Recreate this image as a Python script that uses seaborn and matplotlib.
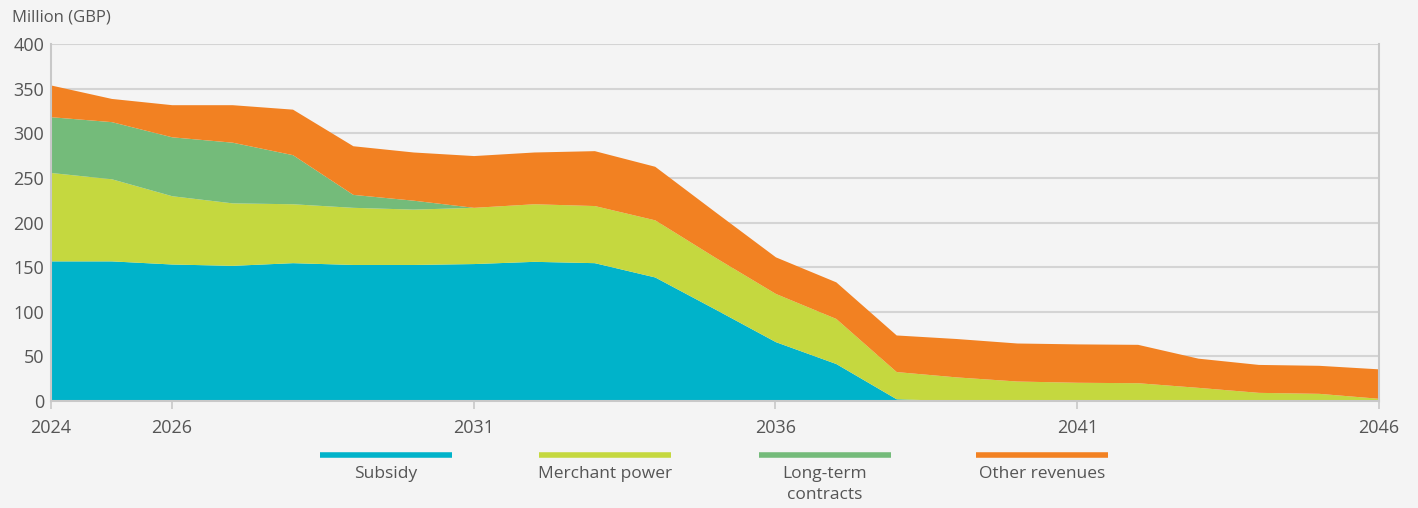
import matplotlib
matplotlib.use('Agg')
import matplotlib.pyplot as plt
from matplotlib.lines import Line2D
import seaborn as sns

# Dados (milhões de GBP)
years = list(range(2024, 2047))
subsidy = [157, 157, 153.5, 152, 155, 153, 153, 154, 156.5, 155, 139, 103, 66.5,
           42, 2.5, 0.5, 0, 0, 0, 0, 0, 0, 0]
merchant = [99, 92, 76.5, 70, 66, 64, 62, 63, 64.5, 64, 64, 58, 54,
            50.5, 30.5, 26.5, 22.4, 21, 20.5, 15.3, 9.7, 8.6, 3]
long_term = [62.5, 64, 66, 68, 55, 14.5, 10, 0, 0, 0, 0, 0, 0,
             0, 0, 0, 0, 0, 0, 0, 0, 0, 0]
other = [35.5, 26, 36, 42, 51, 54.5, 54, 58, 58, 61.5, 60, 51, 41,
         41, 41, 43, 42.6, 43, 43, 32.7, 31.3, 31.4, 33]

series_labels = ['Subsidy', 'Merchant power', 'Long-term\ncontracts', 'Other revenues']
x_ticks = [2024, 2026, 2031, 2036, 2041, 2046]
y_ticks = [0, 50, 100, 150, 200, 250, 300, 350, 400]

colors = ['#00B3CA', '#C5D83F', '#74BB7A', '#F28122']
bg = '#F4F4F4'
text_color = '#555555'
grid_color = '#D4D4D4'

sns.set_theme(style='whitegrid')
plt.rcParams['font.family'] = ['Open Sans', 'DejaVu Sans']

fig = plt.figure(figsize=(14.18, 5.08), dpi=100, facecolor=bg)
ax = fig.add_axes([0.036, 0.2106, 0.9366, 0.7028])
ax.set_facecolor(bg)

ax.stackplot(years, subsidy, merchant, long_term, other,
             colors=colors, linewidth=0)

ax.set_xlim(2024, 2046)
ax.set_ylim(0, 400)
ax.set_xticks(x_ticks)
ax.set_yticks(y_ticks)
ax.tick_params(axis='both', labelsize=13, colors=text_color)
ax.tick_params(axis='x', length=6, width=1.2, color='#C8C8C8', pad=7, direction='out', bottom=True)
ax.tick_params(axis='y', length=0, pad=5)

ax.grid(axis='y', color=grid_color, linewidth=1.5)
ax.grid(axis='x', visible=False)
ax.set_axisbelow(True)
for side in ['left', 'right', 'bottom']:
    ax.spines[side].set_visible(True)
    ax.spines[side].set_color('#C8C8C8')
    ax.spines[side].set_linewidth(1.5)
ax.spines['top'].set_visible(False)

fig.text(12 / 1418, 1 - 18 / 508, 'Million (GBP)', fontsize=12, color=text_color,
         ha='left', va='center')

# Legenda personalizada: linha em cima, texto em baixo
legend_x = [386, 605, 825, 1042]
for cx, lab, col in zip(legend_x, series_labels, colors):
    fig.add_artist(Line2D([(cx - 66) / 1418, (cx + 66) / 1418],
                          [1 - 455 / 508, 1 - 455 / 508],
                          color=col, linewidth=4, solid_capstyle='butt',
                          transform=fig.transFigure))
    fig.text(cx / 1418, 1 - 466 / 508, lab, fontsize=12.5, color=text_color,
             ha='center', va='top', linespacing=1.4)

fig.savefig('out.png', dpi=100, facecolor=bg)
